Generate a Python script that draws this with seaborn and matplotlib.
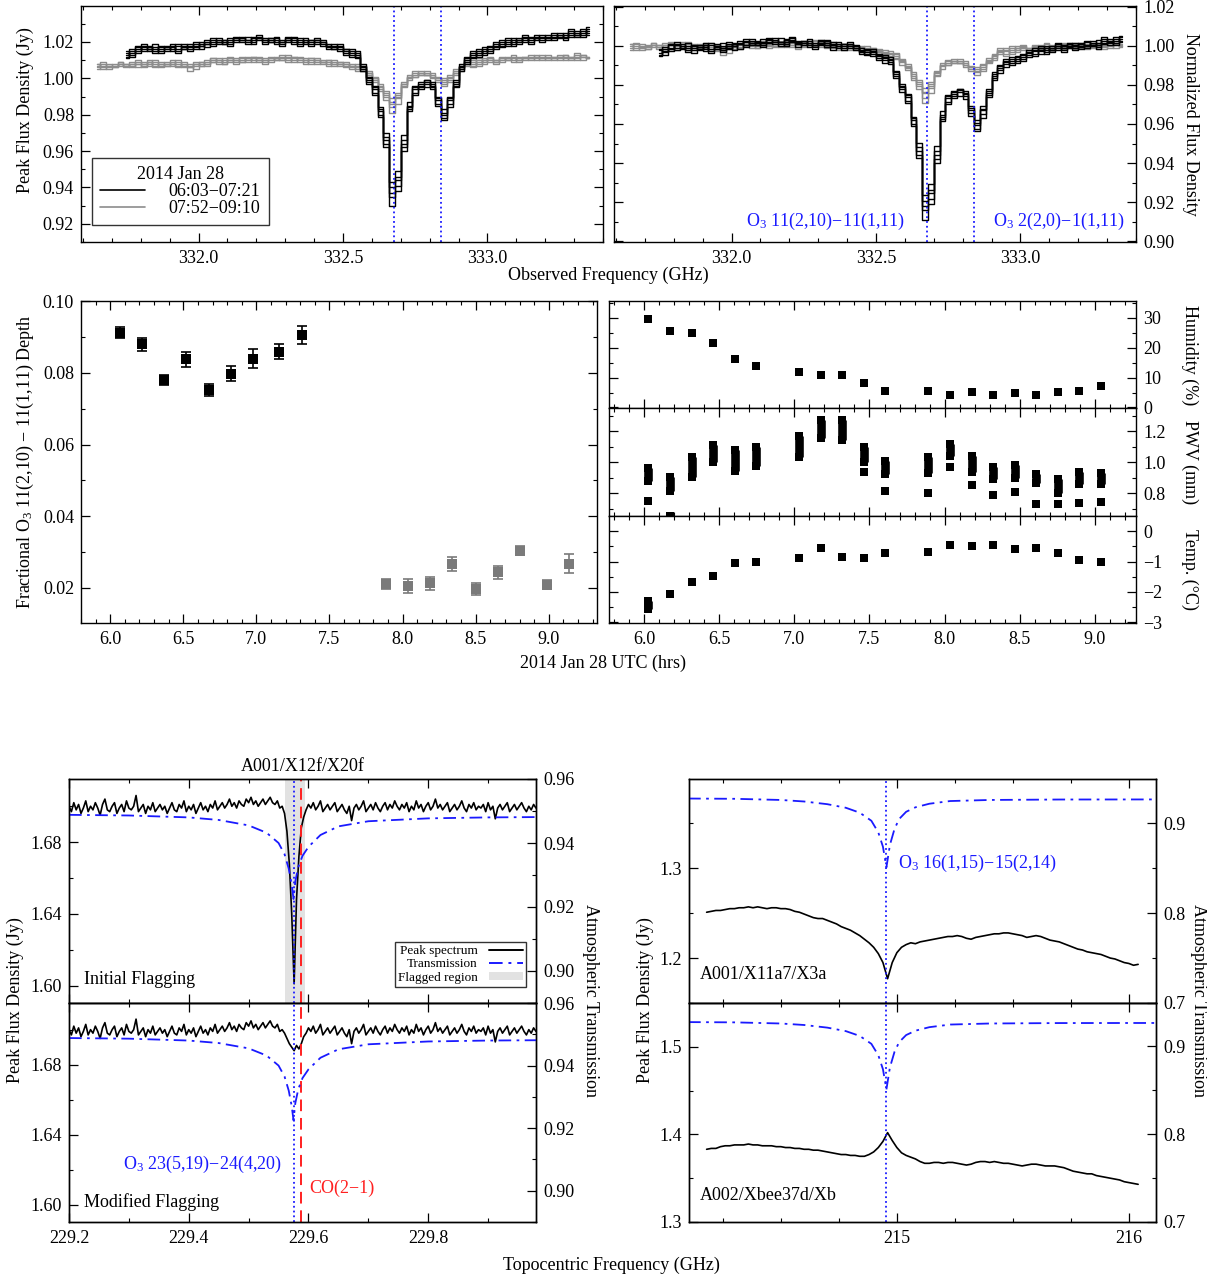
import numpy as np
import pandas as pd
import matplotlib
matplotlib.use("Agg")
import matplotlib.pyplot as plt
import seaborn as sns
from matplotlib.ticker import MultipleLocator
from matplotlib.lines import Line2D
from matplotlib.patches import Patch

# ======================= DATA =======================
# --- Top panels: spectra around 332.7 GHz (values in mJy), channel width 0.02 GHz
spec_chan = 0.02
early_f0 = 331.75
late_f0 = 331.65
early_spec_1 = [1013,1015,1016,1018,1016,1017,1015,1016,1017,1016,1017,1018,1017,1019,1020,1019,1020,1021,1020,1021,1022,1021,1022,1021,1020,1021,1020,1021,1020,1021,1020,1021,1020,1020,1019,1018,1017,1016,1015,1014,1012,1006,999,992,979,962,930,938,962,983,992,995,997,995,986,978,986,996,1005,1010,1013,1014,1015,1016,1018,1019,1020,1020,1021,1021,1022,1022,1022,1023,1022,1023,1024,1024,1025,1024,1026]
early_spec_2 = [1011,1014,1017,1016,1018,1015,1016,1018,1016,1018,1016,1017,1019,1018,1019,1021,1020,1019,1022,1020,1021,1023,1020,1022,1021,1022,1019,1020,1022,1020,1021,1019,1021,1019,1020,1017,1018,1015,1016,1013,1013,1005,1000,994,982,966,937,944,966,985,994,997,998,996,988,980,988,998,1007,1011,1012,1015,1014,1017,1017,1020,1019,1021,1020,1022,1021,1023,1021,1022,1024,1022,1025,1023,1024,1026,1024]
early_spec_3 = [1014,1013,1015,1017,1015,1016,1017,1015,1018,1015,1016,1019,1016,1018,1019,1020,1021,1020,1019,1022,1021,1020,1021,1023,1021,1020,1022,1020,1021,1022,1019,1020,1021,1021,1018,1019,1016,1017,1014,1015,1011,1007,998,995,984,970,943,949,969,987,995,998,999,997,990,983,990,999,1006,1009,1014,1013,1016,1015,1019,1018,1021,1019,1022,1020,1023,1021,1023,1022,1023,1024,1023,1025,1026,1023,1027]
early_spec_4 = [1012,1016,1014,1019,1017,1014,1018,1017,1015,1019,1018,1015,1020,1016,1021,1018,1022,1019,1021,1023,1020,1019,1023,1022,1019,1022,1021,1018,1023,1019,1022,1020,1018,1022,1020,1016,1019,1018,1013,1016,1014,1004,1001,991,983,964,935,941,964,984,991,996,995,998,985,981,984,997,1004,1012,1011,1016,1013,1018,1016,1021,1018,1022,1019,1023,1020,1024,1020,1024,1021,1025,1022,1026,1023,1027,1025]
early_spec_5 = [1015,1012,1018,1015,1016,1019,1014,1017,1019,1014,1019,1016,1018,1020,1017,1022,1019,1021,1018,1022,1023,1021,1019,1024,1022,1020,1023,1019,1021,1023,1018,1022,1019,1021,1021,1018,1016,1019,1016,1012,1015,1008,997,996,980,968,940,946,960,982,996,994,999,994,989,977,989,995,1008,1008,1015,1012,1017,1014,1020,1017,1022,1018,1021,1024,1019,1022,1024,1021,1025,1023,1021,1027,1024,1025,1028]
late_spec_1 = [1006,1007,1006,1008,1007,1008,1007,1009,1008,1009,1008,1007,1009,1008,1007,1008,1006,1007,1008,1009,1010,1009,1010,1009,1010,1011,1010,1011,1010,1009,1010,1011,1012,1010,1011,1010,1009,1010,1009,1010,1008,1009,1008,1007,1007,1006,1005,1002,998,994,988,981,986,995,1000,1002,1003,1002,1001,999,997,999,1003,1006,1008,1008,1009,1010,1010,1009,1010,1011,1010,1011,1010,1011,1012,1011,1010,1011,1012,1011,1012,1011,1012,1011]
late_spec_2 = [1008,1006,1007,1007,1008,1006,1008,1008,1009,1007,1009,1008,1008,1007,1009,1007,1008,1005,1009,1008,1009,1011,1008,1010,1011,1009,1011,1010,1012,1010,1009,1012,1010,1011,1012,1009,1010,1011,1008,1009,1009,1008,1009,1006,1008,1005,1006,1003,1000,996,991,986,990,997,1001,1003,1002,1003,1000,1000,998,1000,1002,1007,1007,1009,1008,1011,1009,1010,1011,1010,1012,1010,1011,1012,1010,1012,1011,1012,1010,1012,1011,1013,1010,1012]
late_spec_3 = [1007,1008,1005,1007,1008,1007,1009,1006,1008,1009,1007,1008,1007,1009,1008,1006,1007,1008,1007,1010,1009,1010,1009,1011,1009,1010,1012,1009,1010,1011,1011,1010,1011,1012,1010,1011,1010,1009,1010,1008,1010,1007,1009,1008,1006,1007,1004,1003,999,995,992,989,991,996,999,1001,1003,1004,1002,1000,999,1001,1004,1005,1009,1007,1010,1009,1011,1010,1009,1012,1011,1010,1012,1011,1013,1010,1012,1011,1013,1010,1011,1012,1013,1012]
late_spec_4 = [1005,1009,1007,1006,1009,1008,1006,1010,1007,1008,1010,1006,1008,1010,1006,1009,1004,1008,1009,1007,1011,1008,1011,1010,1008,1012,1009,1012,1011,1008,1011,1010,1013,1009,1012,1011,1008,1011,1010,1009,1007,1010,1007,1008,1005,1008,1004,1004,1001,997,993,987,992,998,1002,1001,1004,1002,1003,998,1000,998,1005,1004,1010,1006,1011,1008,1012,1009,1011,1010,1013,1009,1012,1013,1011,1011,1013,1010,1012,1013,1010,1014,1012,1011]
late_spec_5 = [1008,1005,1008,1006,1009,1007,1008,1008,1006,1010,1006,1009,1007,1008,1010,1007,1006,1009,1007,1008,1011,1010,1008,1012,1010,1009,1011,1012,1009,1010,1012,1011,1010,1013,1009,1012,1011,1008,1011,1009,1010,1008,1008,1009,1007,1004,1007,1001,1000,993,990,984,989,997,1001,1004,1002,1002,1001,1001,996,1002,1003,1006,1008,1010,1007,1010,1011,1008,1012,1011,1009,1012,1011,1010,1012,1013,1011,1012,1011,1013,1012,1010,1013,1011]
o3_lines_332 = [332.676, 332.838]
o3_labels_332 = ["O$_3$ 11(2,10)\u221211(1,11)", "O$_3$ 2(2,0)\u22121(1,11)"]
legend_title = "2014 Jan 28"
legend_labels = ["06:03\u221207:21", "07:52\u221209:10"]

# --- Middle-left: fractional line depth vs time
depth_t_early = [6.066, 6.218, 6.367, 6.518, 6.675, 6.827, 6.980, 7.156, 7.315]
depth_early = [0.0913, 0.0880, 0.0781, 0.0838, 0.0752, 0.0798, 0.0840, 0.0860, 0.0905]
depth_err_early = [0.0016, 0.0019, 0.0014, 0.0022, 0.0017, 0.0021, 0.0026, 0.0021, 0.0025]
depth_t_late = [7.887, 8.036, 8.187, 8.341, 8.503, 8.655, 8.806, 8.986, 9.140]
depth_late = [0.0212, 0.0206, 0.0213, 0.0267, 0.0197, 0.0243, 0.0304, 0.0209, 0.0268]
depth_err_late = [0.0014, 0.0019, 0.0018, 0.0019, 0.0016, 0.0019, 0.0013, 0.0013, 0.0027]

# --- Middle-right: weather
wx_time = [6.026, 6.173, 6.316, 6.461, 6.603, 6.743, 7.030, 7.178, 7.318, 7.465,
           7.605, 7.892, 8.035, 8.180, 8.322, 8.470, 8.609, 8.757, 8.897, 9.039]
humidity = [29.8, 25.7, 25.0, 21.6, 16.4, 14.0, 12.0, 10.9, 10.8, 8.1,
            5.5, 5.5, 4.1, 5.1, 4.1, 4.8, 4.1, 5.1, 5.5, 7.3]
pwv_high = [0.961, 0.903, 1.033, 1.115, 1.081, 1.098, 1.169, 1.277, 1.273, 1.102,
            1.011, 1.037, 1.121, 1.043, 0.972, 0.985, 0.925, 0.894, 0.938, 0.933]
pwv_low = [0.881, 0.814, 0.902, 1.000, 0.941, 0.974, 1.032, 1.155, 1.145, 1.000,
           0.924, 0.931, 1.039, 0.935, 0.892, 0.898, 0.866, 0.801, 0.859, 0.859]
pwv_extra = [0.751, 0.655, np.nan, np.nan, np.nan, np.nan, np.nan, np.nan, np.nan, 0.937,
             0.812, 0.799, 0.970, 0.855, 0.788, 0.805, 0.732, 0.732, 0.736, 0.741]
temp_high = [-2.30, -2.06, -1.67, -1.46, -1.06, -1.00, -0.87, -0.54, -0.84, -0.87,
             -0.71, -0.70, -0.45, -0.48, -0.45, -0.60, -0.54, -0.71, -0.95, -1.00]
temp_low = [-2.56, -2.06, -1.67, -1.46, -1.06, -1.00, -0.87, -0.54, -0.84, -0.87,
            -0.71, -0.70, -0.45, -0.48, -0.45, -0.60, -0.54, -0.71, -0.95, -1.00]

# --- Bottom-left: A001/X12f/X20f (mJy), channel width 0.004 GHz from 229.2 GHz
co_f0 = 229.2
co_chan = 0.004
co_initial_mjy = [
    1700,1697,1702,1698,1701,1696,1699,1703,1697,1700,
    1698,1702,1699,1695,1701,1704,1698,1697,1700,1702,
    1696,1699,1701,1697,1703,1699,1698,1700,1706,1697,
    1699,1701,1696,1700,1698,1702,1697,1699,1701,1698,
    1700,1696,1699,1702,1698,1697,1701,1699,1703,1697,
    1700,1698,1701,1696,1699,1702,1698,1700,1697,1701,
    1699,1703,1698,1700,1702,1699,1701,1704,1700,1702,
    1699,1703,1701,1700,1704,1702,1705,1701,1703,1700,
    1702,1704,1701,1703,1705,1702,1701,1703,1699,1700,
    1696,1686,1668,1640,1601,1648,1672,1688,1694,1698,
    1701,1699,1702,1698,1700,1703,1697,1699,1701,1698,
    1700,1702,1697,1699,1701,1698,1696,1700,1692,1699,
    1701,1698,1700,1703,1697,1699,1701,1698,1702,1699,
    1697,1700,1702,1698,1701,1699,1703,1700,1698,1701,
    1699,1702,1697,1700,1698,1703,1699,1701,1697,1700,
    1702,1698,1700,1704,1699,1701,1698,1700,1702,1697,
    1699,1701,1698,1700,1703,1699,1697,1701,1699,1702,
    1698,1700,1699,1701,1697,1702,1698,1700,1693,1699,
    1701,1698,1700,1702,1697,1699,1701,1698,1700,1702,
    1699,1697,1700,1698,1701,1699]
co_modified_start = 90
co_modified_patch_mjy = [1698, 1695, 1692, 1690, 1688, 1691, 1689, 1692, 1696]
co_trans_f = [229.20, 229.30, 229.40, 229.45, 229.50, 229.53, 229.55, 229.56, 229.567, 229.572,
              229.575, 229.578, 229.583, 229.59, 229.60, 229.62, 229.65, 229.70, 229.80, 229.90, 229.98]
co_trans = [0.9488, 0.9486, 0.9480, 0.9472, 0.9455, 0.9432, 0.9400, 0.9365, 0.9320, 0.9270,
            0.9225, 0.9280, 0.9325, 0.9360, 0.9388, 0.9425, 0.9452, 0.9468, 0.9477, 0.9480, 0.9481]
co_flag_range = [229.560, 229.594]
o3_line_229 = 229.575
co_line = 229.587

# --- Bottom-right: 215 GHz spectra (mJy), channel width 0.02 GHz from 214.18 GHz
b_f0 = 214.18
b_chan = 0.02
a001_mjy = [1251,1252,1253,1253,1254,1255,1255,1256,1256,1257,1256,1257,1256,1255,1256,1256,1255,1255,1254,1252,
            1251,1249,1247,1245,1244,1244,1242,1240,1238,1235,1233,1231,1228,1225,1221,1217,1212,1205,1195,1177,
            1195,1206,1212,1215,1217,1216,1218,1219,1220,1221,1222,1223,1224,1224,1225,1224,1222,1221,1223,1224,
            1225,1226,1227,1227,1228,1228,1227,1226,1225,1223,1224,1225,1224,1222,1220,1219,1218,1216,1214,1212,
            1210,1209,1207,1206,1205,1204,1202,1200,1199,1197,1195,1194,1192,1193]
a002_mjy = [1383,1384,1384,1386,1387,1387,1388,1388,1388,1389,1388,1388,1387,1387,1387,1386,1386,1385,1385,1384,
            1384,1383,1383,1382,1382,1381,1380,1379,1378,1377,1377,1376,1376,1375,1375,1377,1380,1385,1392,1402,
            1393,1385,1379,1376,1374,1372,1369,1367,1367,1368,1368,1367,1368,1368,1367,1366,1365,1366,1368,1369,
            1369,1368,1369,1368,1367,1367,1366,1365,1364,1365,1366,1366,1365,1364,1364,1364,1363,1362,1360,1358,
            1357,1356,1355,1355,1353,1352,1351,1350,1349,1348,1346,1345,1344,1343]
b_trans_f = [214.10, 214.30, 214.50, 214.60, 214.70, 214.78, 214.84, 214.89, 214.92, 214.94, 214.955,
             214.97, 214.99, 215.01, 215.04, 215.08, 215.14, 215.23, 215.40, 215.70, 216.12]
b_trans = [0.9278, 0.9275, 0.9262, 0.9245, 0.9215, 0.9175, 0.9120, 0.9030, 0.8900, 0.8740, 0.8510,
           0.8760, 0.8940, 0.9050, 0.9130, 0.9180, 0.9220, 0.9250, 0.9262, 0.9267, 0.9268]
o3_line_215 = 214.955

# ======================= STYLE =======================
sns.set_theme(style="ticks")
plt.rcParams.update({
    "font.family": ["Liberation Serif", "DejaVu Serif"],
    "mathtext.default": "regular",
    "font.size": 13,
    "xtick.labelsize": 13, "ytick.labelsize": 13,
    "xtick.direction": "in", "ytick.direction": "in",
    "xtick.top": True, "ytick.right": True,
    "xtick.major.size": 6.5, "ytick.major.size": 6.5,
    "xtick.minor.size": 3.2, "ytick.minor.size": 3.2,
    "xtick.major.width": 0.9, "ytick.major.width": 0.9,
    "xtick.minor.width": 0.8, "ytick.minor.width": 0.8,
    "xtick.major.pad": 6, "ytick.major.pad": 5,
    "axes.linewidth": 1.0, "axes.edgecolor": "black",
    "xtick.color": "black", "ytick.color": "black", "text.color": "black",
    "axes.labelcolor": "black",
})

W, H = 1207, 1276
fig = plt.figure(figsize=(W / 100, H / 100), dpi=100)


def rect(x0, y0, x1, y1):
    return [x0 / W, 1 - y1 / H, (x1 - x0) / W, (y1 - y0) / H]


def loc(ax, xmaj, xmin, ymaj, ymin):
    ax.xaxis.set_major_locator(MultipleLocator(xmaj))
    ax.xaxis.set_minor_locator(MultipleLocator(xmin))
    ax.yaxis.set_major_locator(MultipleLocator(ymaj))
    ax.yaxis.set_minor_locator(MultipleLocator(ymin))
    ax.tick_params(which="both", direction="in", top=True, right=True)


BLUE = "#1a1aff"
GRAY = "#8c8c8c"
DASHDOT = (0, (7, 3, 1.5, 3))

# ======================= TOP PANELS =======================
axTL = fig.add_axes(rect(81, 6, 603, 242))
axTR = fig.add_axes(rect(614, 6, 1136, 242))

groups = [(late_f0, [late_spec_1, late_spec_2, late_spec_3, late_spec_4, late_spec_5], GRAY),
          (early_f0, [early_spec_1, early_spec_2, early_spec_3, early_spec_4, early_spec_5], "black")]
for f0, specs, col in groups:
    for s in specs:
        y = np.array(s) / 1000.0
        f = f0 + spec_chan * np.arange(len(y))
        sns.lineplot(x=f, y=y, ax=axTL, color=col, lw=1.0, drawstyle="steps-mid",
                     estimator=None, sort=False)
        mask = (f < 332.5) | (f > 333.0)
        cont = np.polyval(np.polyfit(f[mask], y[mask], 2), f)
        sns.lineplot(x=f, y=y / cont, ax=axTR, color=col, lw=1.0, drawstyle="steps-mid",
                     estimator=None, sort=False)

for ax in (axTL, axTR):
    for lf in o3_lines_332:
        ax.axvline(lf, color=BLUE, ls=":", lw=1.3)
    ax.set_xlim(331.593, 333.40)
    loc(ax, 0.5, 0.1, 0.02, 0.01)
    ax.set_xlabel("")
    ax.set_ylabel("")

axTL.set_ylim(0.910, 1.0398)
axTR.set_ylim(0.8995, 1.0205)
axTR.tick_params(which="both", labelleft=False, labelright=True)

handles = [Line2D([], [], color="black", lw=1.2), Line2D([], [], color=GRAY, lw=1.2)]
leg = axTL.legend(handles, legend_labels, title=legend_title, loc="lower left",
                  bbox_to_anchor=(0.021, 0.072), fontsize=13, title_fontsize=13,
                  frameon=True, fancybox=False, handlelength=2.5, borderpad=0.45,
                  labelspacing=0.0, handletextpad=1.3, borderaxespad=0)
leg.get_frame().set_edgecolor("black")
leg.get_frame().set_linewidth(1.0)

for lf, lab, xr in zip(o3_lines_332, o3_labels_332, [332.598, 333.36]):
    axTR.text(xr, 0.089, lab, transform=axTR.get_xaxis_transform(), ha="right",
              va="center", color=BLUE, fontsize=13)

fig.text(25 / W, 1 - 110 / H, "Peak Flux Density (Jy)", rotation=90, ha="center", va="center", fontsize=13)
fig.text(1191 / W, 1 - 124 / H, "Normalized Flux Density", rotation=270, ha="center", va="center", fontsize=13)
fig.text(608 / W, 1 - 275 / H, "Observed Frequency (GHz)", ha="center", va="center", fontsize=13)

# ======================= MIDDLE LEFT =======================
axML = fig.add_axes(rect(81, 301, 597, 623))
for t, d, e, col in [(depth_t_early, depth_early, depth_err_early, "black"),
                     (depth_t_late, depth_late, depth_err_late, "#7a7a7a")]:
    axML.errorbar(t, d, yerr=e, fmt="none", ecolor=col, elinewidth=1.2, capsize=3.6, capthick=1.2)
    sns.scatterplot(x=t, y=d, ax=axML, marker="s", s=42, color=col, linewidth=0, zorder=3)
axML.set_xlim(5.80, 9.33)
axML.set_ylim(0.0102, 0.1001)
loc(axML, 0.5, 0.1, 0.02, 0.01)
axML.yaxis.set_major_formatter(matplotlib.ticker.FormatStrFormatter("%.2f"))
axML.xaxis.set_major_formatter(matplotlib.ticker.FormatStrFormatter("%.1f"))
axML.set_xlabel("")
axML.set_ylabel("")
fig.text(25 / W, 1 - 462 / H, "Fractional O$_3$ 11(2,10) \u2212 11(1,11) Depth", rotation=90,
         ha="center", va="center", fontsize=13)
fig.text(603 / W, 1 - 663 / H, "2014 Jan 28 UTC (hrs)", ha="center", va="center", fontsize=13)

# ======================= MIDDLE RIGHT =======================
axH = fig.add_axes(rect(609, 301, 1136, 408))
axP = fig.add_axes(rect(609, 408, 1136, 516))
axT = fig.add_axes(rect(609, 516, 1136, 623))
SQ = 38
BARW = 6.2

sns.scatterplot(x=wx_time, y=humidity, ax=axH, marker="s", s=SQ, color="black", linewidth=0)

axP.vlines(wx_time, np.array(pwv_low), np.array(pwv_high), color="black", lw=BARW, capstyle="butt")
sns.scatterplot(x=wx_time + wx_time, y=pwv_low + pwv_high, ax=axP, marker="s", s=SQ,
                color="black", linewidth=0)
sns.scatterplot(x=wx_time, y=pwv_extra, ax=axP, marker="s", s=SQ, color="black", linewidth=0)

axT.vlines(wx_time, np.array(temp_low), np.array(temp_high), color="black", lw=BARW, capstyle="butt")
sns.scatterplot(x=wx_time + wx_time, y=temp_low + temp_high, ax=axT, marker="s", s=SQ,
                color="black", linewidth=0)

axH.set_ylim(-0.2, 35.7)
axP.set_ylim(0.652, 1.352)
axT.set_ylim(-3.02, 0.495)
loc(axH, 0.5, 0.1, 10, 5)
loc(axP, 0.5, 0.1, 0.2, 0.1)
loc(axT, 0.5, 0.1, 1, 0.5)
for ax in (axH, axP, axT):
    ax.set_xlim(5.767, 9.273)
    ax.tick_params(which="both", labelleft=False, labelright=True)
    ax.set_xlabel("")
    ax.set_ylabel("")
axH.tick_params(labelbottom=False)
axP.tick_params(labelbottom=False)
axP.yaxis.set_major_formatter(matplotlib.ticker.FormatStrFormatter("%.1f"))
axT.yaxis.set_major_formatter(matplotlib.ticker.FuncFormatter(lambda v, p: f"{v:.0f}".replace("-", "\u2212")))
axT.xaxis.set_major_formatter(matplotlib.ticker.FormatStrFormatter("%.1f"))
for lab, yc in [("Humidity (%)", 355), ("PWV (mm)", 462), ("Temp. (\u00b0C)", 569)]:
    fig.text(1190 / W, 1 - yc / H, lab, rotation=270, ha="center", va="center", fontsize=13)

# ======================= BOTTOM LEFT =======================
co_f = co_f0 + co_chan * np.arange(len(co_initial_mjy))
co_init = np.array(co_initial_mjy) / 1000.0
co_mod = co_init.copy()
co_mod[co_modified_start:co_modified_start + len(co_modified_patch_mjy)] = np.array(co_modified_patch_mjy) / 1000.0

axBL1 = fig.add_axes(rect(69, 779, 536, 1003))
axBL2 = fig.add_axes(rect(69, 1003, 536, 1222))
for ax, spec, flagged in [(axBL1, co_init, True), (axBL2, co_mod, False)]:
    if flagged:
        ax.axvspan(co_flag_range[0], co_flag_range[1], color="#e2e2e2", lw=0, zorder=0)
    sns.lineplot(x=co_f, y=spec, ax=ax, color="black", lw=1.2, estimator=None, sort=False)
    ax.axvline(o3_line_229, color=BLUE, ls=":", lw=1.3)
    ax.axvline(co_line, color="#ff2020", ls=(0, (6, 3.5)), lw=1.4)
    ax.set_xlim(229.2, 229.98)
    ax.set_ylim(1.5903, 1.7152)
    loc(ax, 0.2, 0.1, 0.04, 0.02)
    ax.tick_params(which="both", right=False)
    ax.yaxis.set_major_formatter(matplotlib.ticker.FormatStrFormatter("%.2f"))
    ax.set_xlabel("")
    ax.set_ylabel("")
    tw = ax.twinx()
    sns.lineplot(x=co_trans_f, y=co_trans, ax=tw, color=BLUE, lw=1.3, linestyle=DASHDOT,
                 estimator=None, sort=False)
    tw.set_ylim(0.8900, 0.9600)
    tw.yaxis.set_major_locator(MultipleLocator(0.02))
    tw.yaxis.set_minor_locator(MultipleLocator(0.01))
    tw.tick_params(which="both", direction="in", left=False, right=True, labelright=True)
    tw.yaxis.set_major_formatter(matplotlib.ticker.FormatStrFormatter("%.2f"))
    tw.set_ylabel("")
    if flagged:
        lh = [Line2D([], [], color="black", lw=1.4),
              Line2D([], [], color=BLUE, lw=1.4, linestyle=DASHDOT),
              Patch(facecolor="#e2e2e2", edgecolor="none")]
        lg = tw.legend(lh, ["Peak spectrum", "Transmission", "Flagged region"], loc="lower right",
                       bbox_to_anchor=(0.979, 0.071), fontsize=9.5, markerfirst=False,
                       frameon=True, fancybox=False, handlelength=2.6, borderpad=0.25,
                       labelspacing=0.1, borderaxespad=0, handleheight=0.6)
        lg.get_frame().set_edgecolor("black")
        lg.get_frame().set_linewidth(1.0)
axBL1.tick_params(labelbottom=False)
axBL1.set_title("A001/X12f/X20f", fontsize=13, pad=6)
axBL2.xaxis.set_major_formatter(matplotlib.ticker.FormatStrFormatter("%.1f"))
axBL1.text(0.032, 0.103, "Initial Flagging", transform=axBL1.transAxes, ha="left", va="center", fontsize=13)
axBL2.text(0.032, 0.091, "Modified Flagging", transform=axBL2.transAxes, ha="left", va="center", fontsize=13)
axBL2.text(0.456, 0.265, "O$_3$ 23(5,19)\u221224(4,20)", transform=axBL2.transAxes, ha="right",
           va="center", color=BLUE, fontsize=13)
axBL2.text(0.514, 0.155, "CO(2\u22121)", transform=axBL2.transAxes, ha="left", va="center",
           color="#ff2020", fontsize=13)

# ======================= BOTTOM RIGHT =======================
axBR1 = fig.add_axes(rect(689, 779, 1156, 1003))
axBR2 = fig.add_axes(rect(689, 1003, 1156, 1222))
for ax, spec, ylim in [(axBR1, a001_mjy, (1.150, 1.3993)), (axBR2, a002_mjy, (1.300, 1.550))]:
    y = np.array(spec) / 1000.0
    f = b_f0 + b_chan * np.arange(len(y))
    sns.lineplot(x=f, y=y, ax=ax, color="black", lw=1.2, estimator=None, sort=False)
    ax.axvline(o3_line_215, color=BLUE, ls=":", lw=1.3)
    ax.set_xlim(214.104, 216.117)
    ax.set_ylim(*ylim)
    loc(ax, 1, 0.25, 0.1, 0.05)
    ax.tick_params(which="both", right=False)
    ax.yaxis.set_major_formatter(matplotlib.ticker.FormatStrFormatter("%.1f"))
    ax.set_xlabel("")
    ax.set_ylabel("")
    tw = ax.twinx()
    sns.lineplot(x=b_trans_f, y=b_trans, ax=tw, color=BLUE, lw=1.3, linestyle=DASHDOT,
                 estimator=None, sort=False)
    tw.set_ylim(0.6996, 0.9496)
    tw.yaxis.set_major_locator(MultipleLocator(0.1))
    tw.yaxis.set_minor_locator(MultipleLocator(0.05))
    tw.tick_params(which="both", direction="in", left=False, right=True, labelright=True)
    tw.yaxis.set_major_formatter(matplotlib.ticker.FormatStrFormatter("%.1f"))
    tw.set_ylabel("")
axBR1.tick_params(labelbottom=False)
axBR2.xaxis.set_major_formatter(matplotlib.ticker.FormatStrFormatter("%.0f"))
axBR1.text(0.4475, 0.625, "O$_3$ 16(1,15)\u221215(2,14)", transform=axBR1.transAxes, ha="left",
           va="center", color=BLUE, fontsize=13)
axBR1.text(0.0236, 0.129, "A001/X11a7/X3a", transform=axBR1.transAxes, ha="left", va="center", fontsize=13)
axBR2.text(0.0236, 0.119, "A002/Xbee37d/Xb", transform=axBR2.transAxes, ha="left", va="center", fontsize=13)

fig.text(15 / W, 1 - 1000 / H, "Peak Flux Density (Jy)", rotation=90, ha="center", va="center", fontsize=13)
fig.text(590 / W, 1 - 1000 / H, "Atmospheric Transmission", rotation=270, ha="center", va="center", fontsize=13)
fig.text(645 / W, 1 - 1000 / H, "Peak Flux Density (Jy)", rotation=90, ha="center", va="center", fontsize=13)
fig.text(1198 / W, 1 - 1000 / H, "Atmospheric Transmission", rotation=270, ha="center", va="center", fontsize=13)
fig.text(611 / W, 1 - 1265 / H, "Topocentric Frequency (GHz)", ha="center", va="center", fontsize=13)

fig.savefig("out.png", dpi=100)
